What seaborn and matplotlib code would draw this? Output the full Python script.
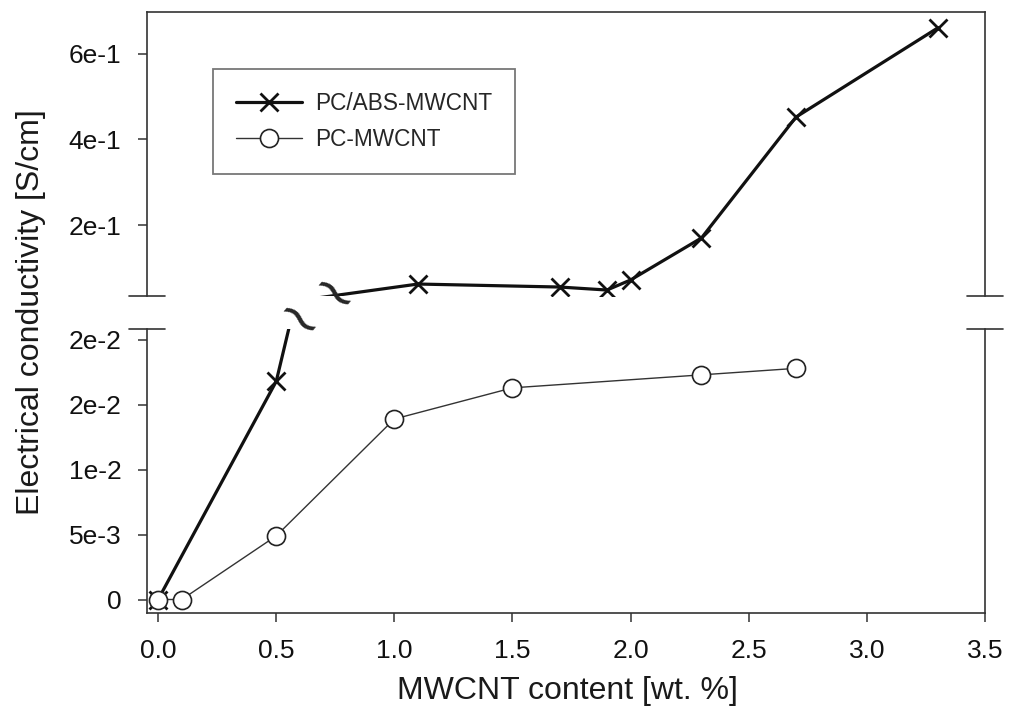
import numpy as np
import pandas as pd
import matplotlib
matplotlib.use('Agg')
import matplotlib.pyplot as plt
import seaborn as sns

# values
abs_x = [0.0, 0.5, 1.1, 1.7, 1.9, 2.0, 2.3, 2.7, 3.3]
abs_y = [0.0, 0.0168, 0.0625, 0.0555, 0.0485, 0.072, 0.170, 0.452, 0.660]
pc_x = [0.0, 0.1, 0.5, 1.0, 1.5, 2.3, 2.7]
pc_y = [0.0, 0.0, 0.0049, 0.0139, 0.0163, 0.0173, 0.0178]

x_ticks = [0.0, 0.5, 1.0, 1.5, 2.0, 2.5, 3.0, 3.5]
x_tick_labels = ['0.0', '0.5', '1.0', '1.5', '2.0', '2.5', '3.0', '3.5']
low_ticks = [0.0, 0.005, 0.01, 0.015, 0.02]
low_tick_labels = ['0', '5e-3', '1e-2', '2e-2', '2e-2']
up_ticks = [0.2, 0.4, 0.6]
up_tick_labels = ['2e-1', '4e-1', '6e-1']

abs_df = pd.DataFrame({'x': abs_x, 'y': abs_y})
pc_df = pd.DataFrame({'x': pc_x, 'y': pc_y})

sns.set_style('ticks')
plt.rcParams['font.family'] = ['Liberation Sans', 'DejaVu Sans']

fig = plt.figure(figsize=(10.09, 7.27), dpi=100)
ax_up = fig.add_axes([0.1457, 0.5928, 0.8305, 0.3906])
ax_lo = fig.add_axes([0.1457, 0.1568, 0.8305, 0.3901])

spine_col = '#333333'
up_lim = (0.0345, 0.697)
lo_lim = (-0.00104, 0.0208)

abs_style = dict(color='#111111', lw=2.3, marker='x', markersize=13,
                 markeredgewidth=2.0, markeredgecolor='#111111')
pc_style = dict(color='#333333', lw=1.0, marker='o', markersize=13,
                markerfacecolor='white', markeredgecolor='#222222',
                markeredgewidth=1.2)

for ax, lim in [(ax_up, up_lim), (ax_lo, lo_lim)]:
    # only mark the points that fall inside this panel
    keep_abs = [i for i, v in enumerate(abs_y) if lim[0] <= v <= lim[1]]
    sns.lineplot(data=abs_df, x='x', y='y', ax=ax, markevery=keep_abs,
                 label='PC/ABS-MWCNT', legend=False, **abs_style)
    if ax is ax_lo:
        sns.lineplot(data=pc_df, x='x', y='y', ax=ax, label='PC-MWCNT',
                     legend=False, **pc_style)
    ax.set_xlim(-0.047, 3.5)
    ax.set_ylim(*lim)
    ax.set_xlabel('')
    ax.set_ylabel('')
    for s in ax.spines.values():
        s.set_color(spine_col)
        s.set_linewidth(1.2)
    ax.tick_params(axis='y', length=6.5, width=1.1, color=spine_col,
                   pad=12, labelsize=19, labelcolor='#111111')

ax_up.set_yticks(up_ticks)
ax_up.set_yticklabels(up_tick_labels)
ax_up.spines['bottom'].set_visible(False)
ax_up.tick_params(axis='x', bottom=False, labelbottom=False)

ax_lo.set_yticks(low_ticks)
ax_lo.set_yticklabels(low_tick_labels)
ax_lo.spines['top'].set_visible(False)
ax_lo.set_xticks(x_ticks)
ax_lo.set_xticklabels(x_tick_labels)
ax_lo.tick_params(axis='x', length=6.5, width=1.1, color=spine_col,
                  pad=12, labelsize=19, labelcolor='#111111')

# break marks on both spines
d = 0.0215
for ax, yy in [(ax_up, 0), (ax_lo, 1)]:
    for xx in (0, 1):
        ax.plot([xx - d, xx + d], [yy, yy], transform=ax.transAxes,
                color=spine_col, lw=1.2, clip_on=False)

# squiggles where the PC/ABS line leaves / enters each panel
x0, x1 = abs_x[1], abs_x[2]
y0, y1 = abs_y[1], abs_y[2]
xs_lo = x0 + (lo_lim[1] - y0) / (y1 - y0) * (x1 - x0)
xs_up = x0 + (up_lim[0] - y0) / (y1 - y0) * (x1 - x0)
ax_lo.text(xs_lo + 0.03, lo_lim[1] + 0.0004, '~', fontsize=40, rotation=-40,
           ha='center', va='center', family='DejaVu Sans', clip_on=False)
ax_up.text(xs_up, up_lim[0] - 0.004, '~', fontsize=40, rotation=-40,
           ha='center', va='center', family='DejaVu Sans', clip_on=False)

# legend lives in the top panel but uses the lower panel's full-marker lines
handles, labels = ax_lo.get_legend_handles_labels()
leg = ax_up.legend(handles, labels, loc='upper left',
                   bbox_to_anchor=(0.079, 0.80),
                   fontsize=16.3, frameon=True, fancybox=False,
                   handlelength=2.9, handletextpad=0.6, borderpad=1.0,
                   labelspacing=0.6, borderaxespad=0)
leg.get_frame().set_edgecolor('#555555')
leg.get_frame().set_linewidth(1.3)

fig.text(0.031, 0.571, 'Electrical conductivity [S/cm]', rotation=90,
         ha='center', va='center', fontsize=23, color='#1a1a1a')
fig.text(0.562, 0.05, 'MWCNT content [wt. %]', ha='center', va='center',
         fontsize=23, color='#1a1a1a')

fig.savefig('out.png', dpi=100)
